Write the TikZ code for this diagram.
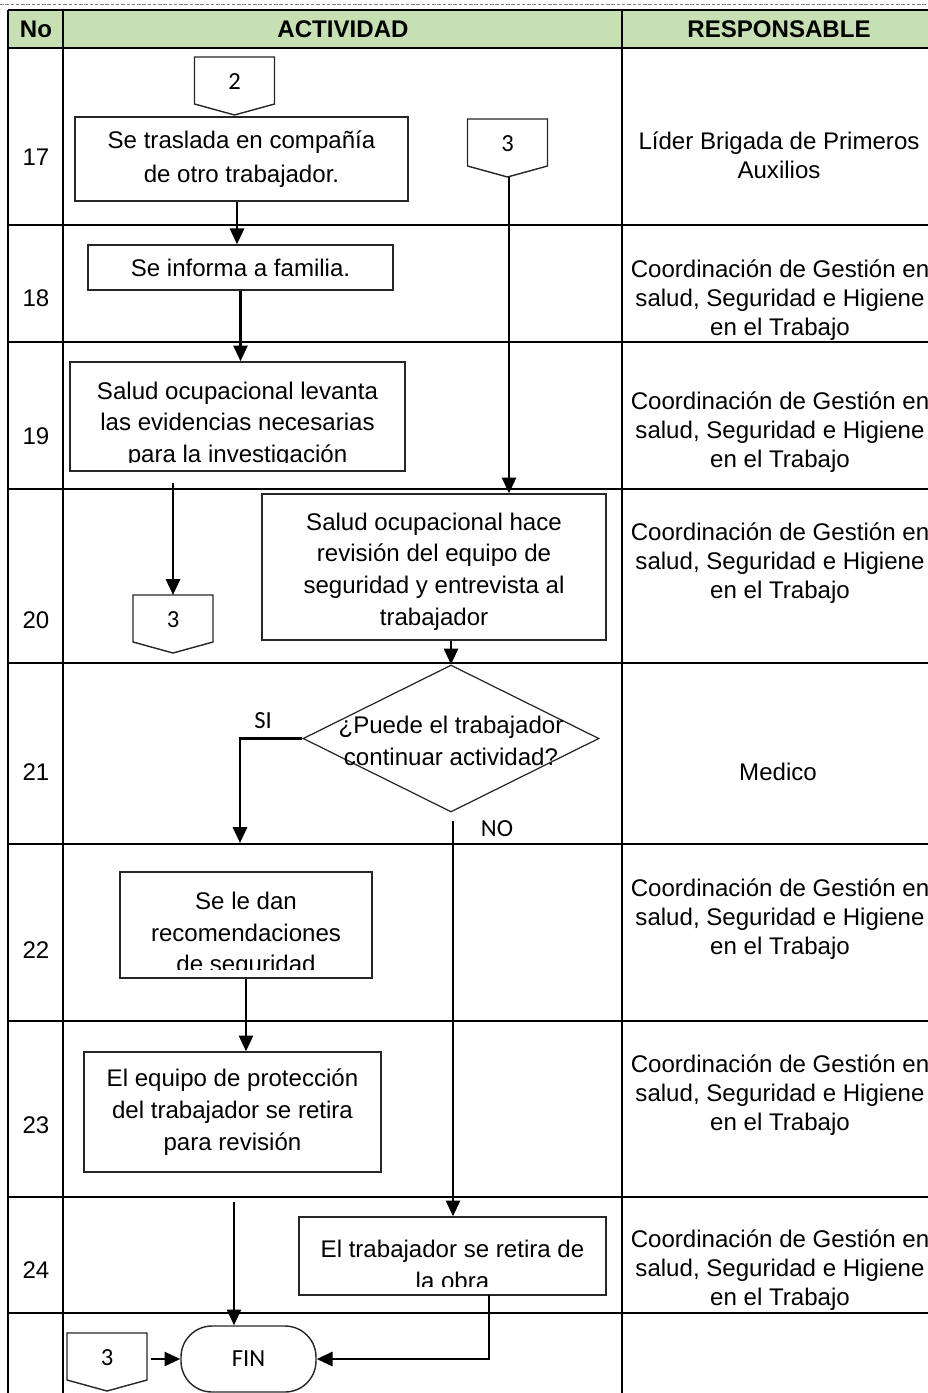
\documentclass[tikz,border=0pt]{standalone}
\usepackage{fontspec}
\setmainfont{Liberation Sans}
\newfontfamily\calibri{Carlito}
\usepackage{tikz}
\usetikzlibrary{arrows.meta}
\usetikzlibrary{shapes.geometric}
\usepackage{xcolor}
\definecolor{headgreen}{RGB}{198,224,180}

\tikzset{
  tabline/.style={line width=1.2pt},
  txt/.style={font=\fontsize{13.7}{18}\selectfont, align=center, inner sep=0pt},
  resp/.style={font=\fontsize{13.7}{16.4}\selectfont, align=center, inner sep=0pt},
  box/.style={draw=black!85, line width=0.8pt, inner sep=0pt, align=center,
    font=\fontsize{13.7}{18}\selectfont},
  offpage/.style={draw=black!85, line width=0.8pt},
  connlabel/.style={font=\calibri\fontsize{14}{16}\selectfont, inner sep=0pt},
  flow/.style={line width=1.5pt, -{Triangle[length=9pt,width=8pt]}},
}

\begin{document}
\begin{tikzpicture}[x=0.02cm, y=-0.02cm]
\useasboundingbox (0,0) rectangle (927,1393);

% table
\draw[dashed, gray, line width=0.4pt, dash pattern=on 2pt off 1pt] (0,4) -- (927,4);
\fill[headgreen] (8,10) rectangle (940,48);

\draw[tabline] (8,10) -- (940,10);
\draw[tabline] (8,48) -- (940,48);
\draw[tabline] (8,225) -- (940,225);
\draw[tabline] (8,342) -- (940,342);
\draw[tabline] (8,489) -- (940,489);
\draw[tabline] (8,663) -- (940,663);
\draw[tabline] (8,844) -- (940,844);
\draw[tabline] (8,1021) -- (940,1021);
\draw[tabline] (8,1197) -- (940,1197);
\draw[tabline] (8,1313) -- (940,1313);

\draw[tabline] (8,10) -- (8,1393);
\draw[tabline] (63,10) -- (63,1393);
\draw[tabline] (622,10) -- (622,1393);

\node[txt, font=\bfseries\fontsize{13.7}{18}\selectfont] (hno) at (36,29) {No};
\node[txt, font=\bfseries\fontsize{13.7}{18}\selectfont] (hact) at (343,29) {ACTIVIDAD};
\node[txt, font=\bfseries\fontsize{13.7}{18}\selectfont] (hresp) at (779,29) {RESPONSABLE};

% numbers
\node[txt] (num17) at (36,157) {17};
\node[txt] (num18) at (36,298) {18};
\node[txt] (num19) at (36,436) {19};
\node[txt] (num20) at (36,620) {20};
\node[txt] (num21) at (36,772) {21};
\node[txt] (num22) at (36,950) {22};
\node[txt] (num23) at (36,1125) {23};
\node[txt] (num24) at (36,1270) {24};

% responsables
\node[resp] (resp17) at (779,155) {Líder Brigada de Primeros\\Auxilios};
\node[resp] (resp18) at (780,300) {Coordinación de Gestión en\\salud, Seguridad e Higiene\\en el Trabajo};
\node[resp] (resp19) at (780,432) {Coordinación de Gestión en\\salud, Seguridad e Higiene\\en el Trabajo};
\node[resp] (resp20) at (780,563) {Coordinación de Gestión en\\salud, Seguridad e Higiene\\en el Trabajo};
\node[resp] (resp21) at (778,772) {Medico};
\node[resp] (resp22) at (780,919) {Coordinación de Gestión en\\salud, Seguridad e Higiene\\en el Trabajo};
\node[resp] (resp23) at (780,1095) {Coordinación de Gestión en\\salud, Seguridad e Higiene\\en el Trabajo};
\node[resp] (resp24) at (780,1270) {Coordinación de Gestión en\\salud, Seguridad e Higiene\\en el Trabajo};

% connectors
\begin{scope}[shift={(234.5,57)}]
\draw[offpage] (-40,0) -- (40,0) -- (40,47) -- (0,58) -- (-40,47) -- cycle;
\node[connlabel] (con2) at (0,25) {2};
\end{scope}

\begin{scope}[shift={(507.5,119)}]
\draw[offpage] (-40,0) -- (40,0) -- (40,47) -- (0,58) -- (-40,47) -- cycle;
\node[connlabel] (con3a) at (0,25) {3};
\coordinate (con3atip) at (1.5,58);
\end{scope}

\begin{scope}[shift={(173,595)}]
\draw[offpage] (-40,0) -- (40,0) -- (40,47) -- (0,58) -- (-40,47) -- cycle;
\node[connlabel] (con3b) at (0,25) {3};
\coordinate (con3btop) at (0,0);
\end{scope}

\begin{scope}[shift={(107,1333)}]
\draw[offpage] (-40,0) -- (40,0) -- (40,47) -- (0,58) -- (-40,47) -- cycle;
\node[connlabel] (con3c) at (0,25) {3};
\end{scope}

% boxes
\node[box, font=\fontsize{13.7}{19.5}\selectfont, minimum width=6.66cm, minimum height=1.68cm]
  (box17) at (241.5,159) {Se traslada en compañía\\de otro trabajador.};
\node[box, minimum width=6.10cm, minimum height=0.90cm]
  (box18) at (240.5,267.5) {Se informa a familia.};

\node[box, minimum width=6.70cm, minimum height=2.18cm] (box19) at (237.5,416.5) {};
\begin{scope}
\clip (box19.north west) rectangle ([yshift=0.18cm]box19.south east);
\node[txt] (txt19) at (237.5,424.5) {Salud ocupacional levanta\\las evidencias necesarias\\para la investigación};
\end{scope}

\node[box, minimum width=6.88cm, minimum height=2.92cm] (box20) at (434,567) {};
\begin{scope}
\clip (box20.north west) rectangle ([yshift=0.18cm]box20.south east);
\node[txt] (txt20) at (434,571.5) {Salud ocupacional hace\\revisión del equipo de\\seguridad y entrevista al\\trabajador};
\end{scope}

\node[diamond, draw=black!85, line width=0.7pt, minimum width=5.92cm, minimum height=2.94cm, inner sep=0pt]
  (dec21) at (451,738.5) {};
\node[txt] (txt21) at (451,741) {¿Puede el trabajador\\continuar actividad?};

\node[box, minimum width=5.04cm, minimum height=2.12cm] (box22) at (246,925) {};
\begin{scope}
\clip (box22.north west) rectangle ([yshift=0.18cm]box22.south east);
\node[txt] (txt22) at (246,935) {Se le dan\\recomendaciones\\de seguridad};
\end{scope}

\node[box, minimum width=5.94cm, minimum height=2.40cm]
  (box23) at (232.5,1112) {El equipo de protección\\del trabajador se retira\\para revisión};

\node[box, minimum width=6.14cm, minimum height=1.56cm] (box24) at (452.5,1256) {};
\begin{scope}
\clip (box24.north west) rectangle ([yshift=0.18cm]box24.south east);
\node[txt] (txt24) at (452.5,1265) {El trabajador se retira de\\la obra};
\end{scope}

\node[draw=black!85, line width=0.8pt, minimum width=2.7cm, minimum height=1.32cm,
  rounded corners=0.62cm, connlabel] (fin) at (248.5,1359) {FIN};

\node[connlabel] (lsi) at (263,721) {SI};
\node[connlabel] (lno) at (497,829) {NO};

% flow
\coordinate (out19) at (173,483);
\coordinate (si21) at (240,843);
\coordinate (no21) at (453,821);
\coordinate (out23) at (234,1202);
\coordinate (out3c) at (151,1359);
\coordinate (out24) at (489,1295);

\draw[flow] ([xshift=-0.09cm]box17.south) -- ([xshift=-0.09cm]box17.south |- box18.north);
\draw[flow] (box18.south) -- (box18.south |- box19.north);
\draw[flow] (out19) -- (con3btop);
\draw[flow] (con3atip) -- (con3atip |- box20.north);
\draw[flow] (dec21.north |- box20.south) -- (dec21.north);
\draw[flow] (dec21.west) -| (si21);
\draw[flow] (no21) -- (no21 |- box24.north);
\draw[flow] (box22.south) -- (box22.south |- box23.north);
\draw[flow] (out23) -- (out23 |- fin.north);
\draw[flow] (out3c) -- (fin.west);
\draw[flow] (out24) |- (fin.east);

\end{tikzpicture}
\end{document}
